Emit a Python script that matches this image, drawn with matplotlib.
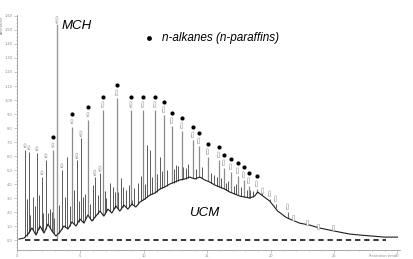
import numpy as np
import matplotlib.pyplot as plt
from matplotlib.ticker import MultipleLocator, FuncFormatter

# retention time (min) / abundance (x1e6)

# n-alkane peaks (marked with a black dot)
alkane_rt = [2.83, 4.33, 5.59, 6.77, 7.87, 8.98, 9.92, 10.87, 11.57, 12.20, 12.99,
             13.86, 14.33, 15.04, 15.91, 16.30, 16.85, 17.40, 17.87, 18.27, 18.90]
alkane_top = [6.4, 8.07, 8.57, 9.29, 10.14, 9.29, 9.29, 9.29, 8.93, 8.14, 7.79,
              7.14, 6.71, 5.93, 5.71, 5.14, 4.86, 4.57, 4.29, 3.86, 3.64]
alkane_names = ["C%d" % n for n in range(7, 28)]

# later n-alkanes, labelled but without dot
late_rt = [19.37, 19.92, 20.39, 21.34]
late_top = [3.14, 2.93, 2.57, 2.0]
late_names = ["C28", "C29", "C30", "C31"]

# labels sitting on the tail of the hump
tail_rt = [21.81, 22.91, 23.78, 24.96]
tail_lvl = [1.57, 1.21, 0.93, 0.86]
tail_names = ["C32", "C33", "C34", "C35"]

# methylcyclohexane
mch_rt = 3.15
mch_top = 15.43

# other (branched / cyclic) peaks
minor_rt = [0.63, 0.94, 1.26, 1.57, 1.97, 2.28, 2.44, 2.76, 3.54, 3.94, 4.72, 5.04,
            5.20, 6.14, 6.54, 7.32, 7.72, 8.35, 9.06, 10.24, 10.47, 11.26, 12.52,
            13.31, 15.51, 16.46, 17.09, 18.35, 19.29]
minor_top = [6.43, 6.29, 3.07, 6.21, 4.5, 5.71, 1.93, 2.0, 5.0, 5.93, 5.71, 7.29,
             3.07, 4.5, 4.79, 4.07, 3.43, 3.79, 2.86, 6.79, 6.43, 5.93, 5.36,
             5.14, 4.64, 4.07, 3.86, 3.57, 3.43]
minor_labelled = [0, 1, 3, 4, 5, 8, 10, 11, 13, 14]

# small unresolved spikes riding on the hump
small_rt = [0.75, 1.05, 1.4, 1.7, 2.05, 2.6, 2.95, 3.3, 3.75, 4.15, 4.5, 4.85, 5.4,
            5.75, 6.0, 6.35, 6.95, 7.05, 7.6, 8.0, 8.2, 8.6, 8.85, 9.25, 9.55, 9.8,
            10.1, 10.65, 11.0, 11.4, 11.8, 12.35, 12.7, 13.1, 13.5, 14.1, 14.6,
            15.3, 15.75, 16.1, 16.65, 17.25, 17.65, 18.1, 18.6]
small_top = [2.9, 1.8, 2.4, 3.2, 1.9, 2.2, 1.6, 2.5, 3.1, 2.4, 3.6, 2.8, 3.3,
             2.6, 3.9, 3.2, 3.5, 3.0, 3.8, 3.4, 4.4, 3.6, 3.9, 3.7, 4.1, 4.6,
             4.0, 4.5, 4.7, 4.9, 5.0, 5.1, 5.3, 5.2, 5.4, 5.1, 5.2,
             4.8, 4.5, 4.4, 4.2, 4.0, 3.8, 3.6, 3.5]

# unresolved complex mixture (hump under the peaks)
ucm_rt = [0.16, 0.55, 0.87, 1.18, 1.50, 1.81, 2.13, 2.44, 2.76, 3.07, 3.39, 3.70,
          4.02, 4.33, 4.65, 4.96, 5.28, 5.59, 5.91, 6.22, 6.54, 6.85, 7.17, 7.48,
          7.80, 8.11, 8.43, 8.74, 9.06, 9.37, 9.69, 10.08, 10.47, 10.87, 11.26,
          11.65, 12.05, 12.44, 12.83, 13.23, 13.62, 14.02, 14.41, 14.80, 15.20,
          15.59, 15.98, 16.38, 16.77, 17.17, 17.56, 17.95, 18.35, 18.74, 18.98,
          19.29, 19.61, 19.92, 20.24, 20.55, 20.87, 21.18, 21.50, 21.89, 22.28,
          23.07, 23.86, 24.65, 25.43, 26.22, 27.01, 27.95, 28.98, 30.0]
ucm_val = [0.07, 0.14, 0.43, 0.86, 0.36, 1.0, 0.5, 1.14, 0.64, 0.29, 0.57, 1.0,
           0.79, 1.29, 1.0, 1.5, 1.21, 1.79, 1.36, 1.71, 2.07, 1.71, 2.21, 1.93,
           2.43, 2.07, 2.5, 2.21, 2.57, 2.36, 2.71, 2.93, 3.21, 3.36, 3.64,
           3.79, 4.0, 4.14, 4.29, 4.36, 4.5, 4.36, 4.5, 4.29, 4.14,
           3.93, 3.79, 3.64, 3.43, 3.29, 3.14, 3.07, 3.0, 3.14, 3.43,
           3.21, 3.0, 2.79, 2.43, 2.07, 1.86, 1.64, 1.5, 1.36, 1.21,
           1.07, 0.86, 0.71, 0.57, 0.43, 0.36, 0.29, 0.21, 0.21]

yticks = list(range(0, 17))
xticks = [0, 5, 10, 15, 20, 25, 30]


def base_at(rt):
    return np.interp(rt, ucm_rt, ucm_val)


def peak_label(ax, x, y, name):
    ax.text(x, y, name, rotation=90, fontsize=1.7, color="#888888",
            ha="center", va="center", zorder=5,
            bbox=dict(boxstyle="round,pad=0.2", fc="white", ec="#9a9a9a", lw=0.35))


fig = plt.figure(figsize=(4.14, 2.59), dpi=100)
ax = fig.add_axes([17 / 414, 9 / 259, 383 / 414, 235 / 259])

# peaks
ax.vlines(small_rt, base_at(small_rt), small_top, color="#3a3a3a", lw=0.6, zorder=2)
ax.vlines(minor_rt, base_at(minor_rt), minor_top, color="#5a5a5a", lw=0.7, zorder=2)
ax.vlines(alkane_rt, base_at(alkane_rt), alkane_top, color="#8c8c8c", lw=0.9, zorder=2)
ax.vlines(late_rt, base_at(late_rt), late_top, color="#6e6e6e", lw=0.8, zorder=2)
ax.vlines([mch_rt], [0.1], [mch_top], color="#9a9a9a", lw=1.0, zorder=2)

# hump
ax.plot(ucm_rt, ucm_val, color="#1e1e1e", lw=0.8, zorder=3)

# zero baseline
ax.plot([0.63, 29.1], [0, 0], color="black", lw=1.1, ls=(0, (3.5, 2.5)), zorder=4)

# dots and peak labels
ax.scatter(alkane_rt, [v + 0.93 for v in alkane_top], s=9, color="black", zorder=6,
           linewidths=0)
for x, v, n in zip(alkane_rt, alkane_top, alkane_names):
    peak_label(ax, x, v + 0.38, n)
for x, v, n in zip(late_rt, late_top, late_names):
    peak_label(ax, x, v + 0.38, n)
for x, v, n in zip(tail_rt, tail_lvl, tail_names):
    peak_label(ax, x, v, n)
for i in minor_labelled:
    peak_label(ax, minor_rt[i], minor_top[i] + 0.3, "p%d" % (i + 1))
peak_label(ax, mch_rt, mch_top + 0.3, "MCH")

# annotations
font = dict(family="Liberation Sans", style="italic", color="black")
ax.text(3.55, 15.3, "MCH", va="center", ha="left", fontsize=9.5, **font)
ax.text(11.4, 14.4, "n-alkanes (n-paraffins)", va="center", ha="left",
        fontsize=8.5, **font)
ax.scatter([10.4], [14.4], s=12, color="black", linewidths=0)
ax.text(13.6, 1.93, "UCM", va="center", ha="left", fontsize=9.5, **font)

# axes
ax.set_xlim(0, 30.2)
ax.set_ylim(-0.71, 16.07)
for s in ["top", "right"]:
    ax.spines[s].set_visible(False)
for s in ["left", "bottom"]:
    ax.spines[s].set_color("#9a9a9a")
    ax.spines[s].set_linewidth(0.6)
ax.set_yticks(yticks)
ax.yaxis.set_minor_locator(MultipleLocator(0.25))
ax.yaxis.set_major_formatter(FuncFormatter(
    lambda v, p: "%.2f" % (v / 10) if v >= 10 else "%.1f" % v))
ax.set_xticks(xticks)
ax.xaxis.set_minor_locator(MultipleLocator(1))
ax.tick_params(which="both", colors="#9a9a9a", labelsize=2.6, labelcolor="#8a8a8a",
               width=0.4, pad=1)
ax.tick_params(which="major", length=2)
ax.tick_params(which="minor", length=1)
ax.text(-0.039, 1.0, "Abundance", transform=ax.transAxes, rotation=90,
        fontsize=2.4, color="#8a8a8a", ha="center", va="top")
ax.text(0.99, -0.018, "Retention time", transform=ax.transAxes,
        fontsize=2.6, color="#8a8a8a", ha="right", va="top")

fig.savefig("out.png", dpi=100)
